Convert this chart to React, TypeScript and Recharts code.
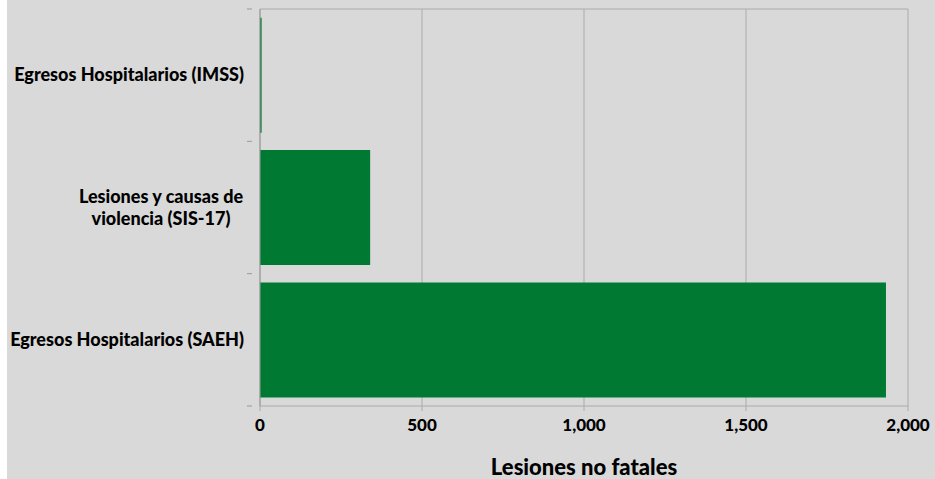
import React from 'react';
import { BarChart, Bar, XAxis, YAxis, CartesianGrid } from 'recharts';

const categories: string[] = [
  'Egresos Hospitalarios (IMSS)',
  'Lesiones y causas de|violencia (SIS-17)',
  'Egresos Hospitalarios (SAEH)',
];
const values: number[] = [5, 340, 1932];
const xTicks: number[] = [0, 500, 1000, 1500, 2000];
const axisTitle = 'Lesiones no fatales';

const data = categories.map((c, i) => ({ name: c, value: values[i] }));

const FONT = 'Lato, "Open Sans", sans-serif';

const CatTick = (props: any) => {
  const { x, y, payload, index } = props;
  const off = payload && payload.offset ? payload.offset : 66;
  const lines: string[] = String(payload.value).split('|');
  const tx = x - 8;
  return (
    <g>
      <line x1={x - 5} x2={x} y1={y - off} y2={y - off} stroke="#999" />
      {index === categories.length - 1 && (
        <line x1={x - 5} x2={x} y1={y + off} y2={y + off} stroke="#999" />
      )}
      {lines.length === 1 ? (
        <text x={tx} y={y} dy="0.35em" textAnchor="end" fontFamily={FONT} fontWeight={900} fontSize={18} fill="#000">
          {lines[0]}
        </text>
      ) : (
        <text textAnchor="middle" fontFamily={FONT} fontWeight={900} fontSize={18} fill="#000">
          {lines.map((l, i) => (
            <tspan key={i} x={tx - 83} y={y + (i - (lines.length - 1) / 2) * 22} dy="0.35em">
              {l}
            </tspan>
          ))}
        </text>
      )}
    </g>
  );
};

export default function App() {
  return (
    <div style={{ position: 'absolute', top: 0, left: 7, width: 928, height: 479, background: '#d9d9d9' }}>
      <BarChart
        width={928}
        height={479}
        data={data}
        layout="vertical"
        margin={{ top: 9, right: 27, bottom: 0, left: 0 }}
        barCategoryGap="6.6%"
      >
        <CartesianGrid
          stroke="#ababab"
          horizontalCoordinatesGenerator={(p: any) => [p && p.offset ? p.offset.top : 9]}
        />
        <XAxis
          type="number"
          domain={[0, 2000]}
          ticks={xTicks}
          tickFormatter={(v: number) => v.toLocaleString('en-US')}
          tick={{ fontFamily: FONT, fontWeight: 900, fontSize: 17, fill: '#000' }}
          tickSize={5}
          tickMargin={8}
          stroke="#aaa"
          height={73}
          label={{ value: axisTitle, position: 'insideBottom', offset: 4, fontFamily: FONT, fontWeight: 900, fontSize: 22, fill: '#000' }}
        />
        <YAxis
          type="category"
          dataKey="name"
          width={253}
          tickLine={false}
          stroke="#999"
          tick={<CatTick />}
          interval={0}
        />
        <Bar dataKey="value" fill="#007a33" isAnimationActive={false} />
      </BarChart>
    </div>
  );
}
